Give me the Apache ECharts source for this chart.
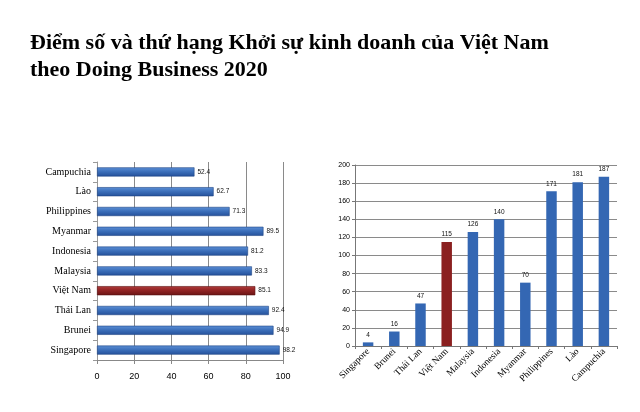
<!DOCTYPE html>
<html><head><meta charset="utf-8">
<script src="https://cdn.jsdelivr.net/npm/echarts@6/dist/echarts.min.js"></script>
<style>html,body{margin:0;padding:0;background:#fff}#c{width:640px;height:412px}</style>
</head><body><div id="c"></div>
<script>
const categories = ['Singapore','Brunei','Thái Lan','Việt Nam','Malaysia','Indonesia','Myanmar','Philippines','Lào','Campuchia'];
const scores = [98.2, 94.9, 92.4, 85.1, 83.3, 81.2, 89.5, 71.3, 62.7, 52.4];
const ranks = [4, 16, 47, 115, 126, 140, 70, 171, 181, 187];
const highlight = 'Việt Nam';

const blueH = {type:'linear',x:0,y:0,x2:0,y2:1,colorStops:[{offset:0,color:'#5b8fd6'},{offset:0.5,color:'#3a6db8'},{offset:1,color:'#24509a'}]};
const redH = {type:'linear',x:0,y:0,x2:0,y2:1,colorStops:[{offset:0,color:'#b03a3a'},{offset:0.5,color:'#8e2222'},{offset:1,color:'#6a1414'}]};
const blueV = '#3467b3';
const redV = '#8b2020';

const chart = echarts.init(document.getElementById('c'));
chart.setOption({
  animation:false,
  title:{
    text:'Điểm số và thứ hạng Khởi sự kinh doanh của Việt Nam\ntheo Doing Business 2020',
    left:25, top:25,
    textStyle:{fontFamily:'Liberation Serif',fontWeight:'bold',fontSize:22,color:'#000',lineHeight:27}
  },
  grid:[
    {left:97, top:162, width:186, height:198},
    {left:355, top:165, width:262, height:181}
  ],
  xAxis:[
    {gridIndex:0, type:'value', min:0, max:100, interval:20,
     axisLine:{show:true,lineStyle:{color:'#888'}},
     axisTick:{show:true,length:4,lineStyle:{color:'#888'}},
     axisLabel:{fontFamily:'Liberation Sans',fontSize:9,color:'#000',margin:12},
     splitLine:{show:true,lineStyle:{color:'#8a8a8a',width:1}}},
    {gridIndex:1, type:'category', data:categories,
     axisLine:{show:true,lineStyle:{color:'#777'}},
     axisTick:{show:true,alignWithLabel:false,length:3,lineStyle:{color:'#777'}},
     axisLabel:{fontFamily:'Liberation Serif',fontSize:9.5,color:'#000',rotate:45,interval:0,margin:4}}
  ],
  yAxis:[
    {gridIndex:0, type:'category', data:categories,
     axisLine:{show:true,lineStyle:{color:'#999'}},
     axisTick:{show:true,length:4,lineStyle:{color:'#999'}},
     axisLabel:{fontFamily:'Liberation Serif',fontSize:10,color:'#000',margin:6}},
    {gridIndex:1, type:'value', min:0, max:200, interval:20,
     axisLine:{show:true,lineStyle:{color:'#777'}},
     axisTick:{show:true,length:3,lineStyle:{color:'#777'}},
     axisLabel:{fontFamily:'Liberation Sans',fontSize:7,color:'#000',margin:5},
     splitLine:{show:true,lineStyle:{color:'#8a8a8a',width:1}}}
  ],
  series:[
    {type:'bar', xAxisIndex:0, yAxisIndex:0, barWidth:'46%',
     data:scores.map((v,i)=>({value:v,itemStyle:{color:categories[i]===highlight?redH:blueH, borderColor:categories[i]===highlight?'#5a1010':'#1f4585', borderWidth:0.6}})),
     label:{show:true,position:'right',distance:3,fontFamily:'Liberation Sans',fontSize:6.5,color:'#111',formatter:p=>p.value.toFixed(1)}},
    {type:'bar', xAxisIndex:1, yAxisIndex:1, barWidth:'40%',
     data:ranks.map((v,i)=>({value:v,itemStyle:{color:categories[i]===highlight?redV:blueV}})),
     label:{show:true,position:'top',distance:4,fontFamily:'Liberation Sans',fontSize:6.5,color:'#111'}}
  ]
});
</script></body></html>
